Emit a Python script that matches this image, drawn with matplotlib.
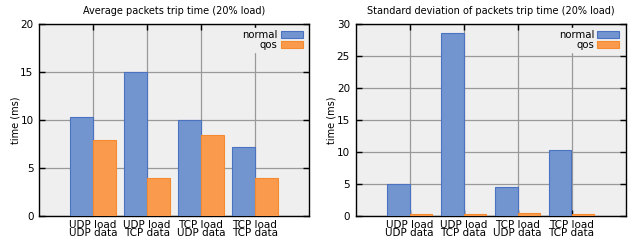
import matplotlib
matplotlib.use("Agg")
import matplotlib.pyplot as plt
import numpy as np

categories = ["UDP load\nUDP data", "UDP load\nTCP data", "TCP load\nUDP data", "TCP load\nTCP data"]
avg_normal = [10.3, 15.0, 10.0, 7.2]
avg_qos = [7.9, 4.0, 8.4, 4.0]
std_normal = [5.0, 28.6, 4.6, 10.3]
std_qos = [0.35, 0.25, 0.5, 0.25]

BLUE = "#7295cf"
BLUE_EDGE = "#4a72c0"
ORANGE = "#fa9a4c"
ORANGE_EDGE = "#f58a30"
FACE = "#efefef"

fig = plt.figure(figsize=(6.36, 2.4), dpi=100)
axes = [fig.add_axes([39/636, 24/240, 270/636, 192/240]),
        fig.add_axes([355.5/636, 24/240, 270/636, 192/240])]

def draw(ax, normal, qos, title, ymax, ystep):
    x = np.arange(1, len(categories) + 1)
    w = 0.42
    ax.set_facecolor(FACE)
    ax.bar(x - w/2, normal, w, color=BLUE, edgecolor=BLUE_EDGE, linewidth=0.8, label="normal", zorder=3)
    ax.bar(x + w/2, qos, w, color=ORANGE, edgecolor=ORANGE_EDGE, linewidth=0.8, label="qos", zorder=3)
    ax.set_xlim(0, 5)
    ax.set_ylim(0, ymax)
    ax.set_xticks(x)
    ax.set_xticklabels(categories, fontsize=7.5, linespacing=0.75)
    ax.set_yticks(np.arange(0, ymax + 0.1, ystep))
    ax.tick_params(axis="y", labelsize=7.5, direction="in", right=True, length=4, width=1, pad=4)
    ax.tick_params(axis="x", direction="in", top=True, length=4, width=1, pad=3)
    ax.grid(True, color="#999999", linewidth=0.9, zorder=0)
    ax.set_axisbelow(True)
    for s in ax.spines.values():
        s.set_linewidth(1.0)
        s.set_color("black")
    ax.set_title(title, fontsize=7, pad=7)
    ax.set_ylabel("time (ms)", fontsize=7, labelpad=0)
    leg = ax.legend(loc="upper right", fontsize=7.3, markerfirst=False, frameon=True,
                    facecolor=FACE, edgecolor=FACE, framealpha=1, handlelength=2.2,
                    handleheight=0.55, labelspacing=0.0, borderpad=0.2, borderaxespad=0.4,
                    handletextpad=0.3, fancybox=False)
    for t in leg.get_texts():
        t.set_ha("right")
    leg.set_zorder(5)

draw(axes[0], avg_normal, avg_qos, "Average packets trip time (20% load)", 20, 5)
draw(axes[1], std_normal, std_qos, "Standard deviation of packets trip time (20% load)", 30, 5)

fig.savefig("out.png", dpi=100)
